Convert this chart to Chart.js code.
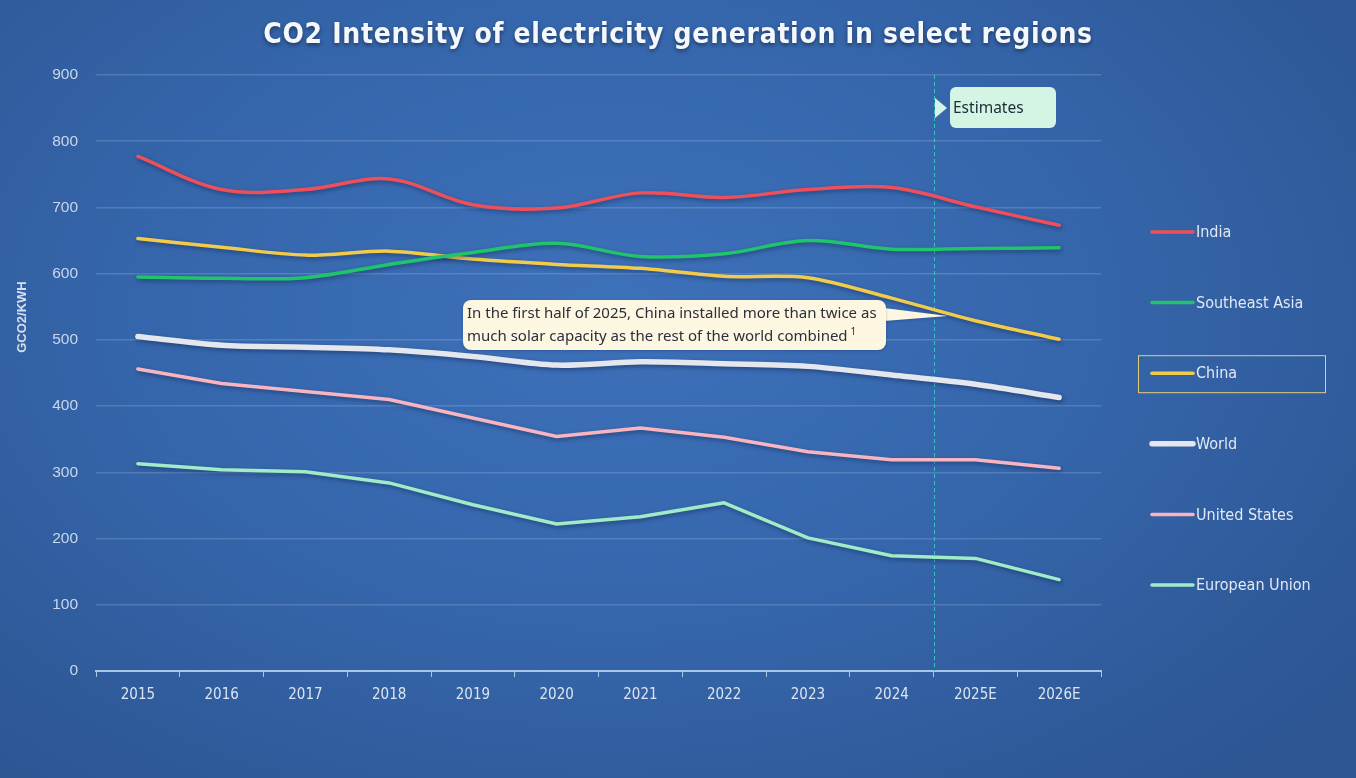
<!DOCTYPE html>
<html>
<head>
<meta charset="utf-8">
<script src="https://cdn.jsdelivr.net/npm/chart.js@4.4.1/dist/chart.umd.min.js"></script>
<style>
  html, body { margin: 0; padding: 0; }
  body {
    width: 1356px; height: 778px; overflow: hidden;
    background: radial-gradient(ellipse 70% 80% at 45% 40%, #3d71ba 0%, #3667ad 45%, #2c5592 100%);
  }
  #wrap { position: relative; width: 1356px; height: 778px; }
</style>
</head>
<body>
<div id="wrap"><canvas id="chart" width="1356" height="778"></canvas></div>
<script>
// categories
const years = ['2015', '2016', '2017', '2018', '2019', '2020', '2021', '2022', '2023', '2024', '2025E', '2026E'];

// series values (gCO2/kWh)
const india         = [777, 727, 727, 743, 704, 699, 722, 715, 727, 730, 701, 673];
const southeastAsia = [595, 593, 594, 614, 632, 646, 626, 630, 650, 637, 638, 639];
const china         = [653, 640, 628, 634, 622, 614, 608, 596, 594, 563, 529, 501];
const world         = [505, 492, 489, 485, 475, 462, 467, 464, 460, 447, 433, 413];
const unitedStates  = [456, 434, 422, 410, 382, 354, 367, 353, 331, 319, 319, 306];
const europeanUnion = [313, 304, 301, 284, 251, 222, 233, 254, 201, 174, 170, 138];

// y ticks
const yTicks = [0, 100, 200, 300, 400, 500, 600, 700, 800, 900];

const titleText = 'CO2 Intensity of electricity generation in select regions';
const noteLines = ['In the first half of 2025, China installed more than twice as',
                   'much solar capacity as the rest of the world combined'];
const estimateIdx = 10; // first estimated category
const highlightLegend = 'China';

function series(label, data, color, width, tension) {
  return {
    label: label, data: data, borderColor: color, backgroundColor: color,
    borderWidth: width, tension: tension, pointRadius: 0, pointHoverRadius: 0,
    borderCapStyle: 'round', borderJoinStyle: 'round', fill: false
  };
}

// shadow under the lines, title, custom legend and callouts
const decorations = {
  id: 'decorations',
  beforeDatasetDraw(chart) {
    const ctx = chart.ctx;
    ctx.save();
    ctx.shadowColor = 'rgba(10, 25, 60, 0.45)';
    ctx.shadowBlur = 4;
    ctx.shadowOffsetX = 1;
    ctx.shadowOffsetY = 2;
  },
  afterDatasetDraw(chart) {
    chart.ctx.restore();
  },
  beforeDatasetsDraw(chart) {
    // dashed line at the start of estimates
    const ctx = chart.ctx, x = chart.scales.x, a = chart.chartArea;
    const lx = Math.round((x.getPixelForValue(estimateIdx - 1) + x.getPixelForValue(estimateIdx)) / 2) + 0.5;
    ctx.save();
    ctx.strokeStyle = '#39c2bd';
    ctx.lineWidth = 1;
    ctx.setLineDash([4, 3]);
    ctx.beginPath();
    ctx.moveTo(lx, a.top);
    ctx.lineTo(lx, a.bottom);
    ctx.stroke();
    ctx.restore();
  },
  afterDraw(chart) {
    const ctx = chart.ctx, a = chart.chartArea, x = chart.scales.x, y = chart.scales.y;

    // title
    ctx.save();
    ctx.font = 'bold 28px "DejaVu Sans Condensed", "DejaVu Sans"';
    ctx.letterSpacing = '0.7px';
    ctx.fillStyle = '#f4f7fb';
    ctx.textAlign = 'center';
    ctx.textBaseline = 'middle';
    ctx.shadowColor = 'rgba(0, 0, 0, 0.45)';
    ctx.shadowBlur = 4;
    ctx.shadowOffsetY = 2;
    ctx.fillText(titleText, 678, 36);
    ctx.restore();

    // y axis title
    ctx.save();
    ctx.translate(22, 317);
    ctx.rotate(-Math.PI / 2);
    ctx.font = 'bold 13px "Liberation Sans", Arial';
    ctx.fillStyle = '#d5dfee';
    ctx.textAlign = 'center';
    ctx.textBaseline = 'middle';
    ctx.fillText('GCO2/KWH', 0, 0);
    ctx.restore();

    // legend
    const lx0 = a.right + 51, lx1 = a.right + 92;
    chart.data.datasets.forEach((ds, i) => {
      const ly = a.top + 157 + i * 70.6;
      ctx.save();
      if (ds.label === highlightLegend) {
        ctx.strokeStyle = '#e3cf7a';
        ctx.lineWidth = 1;
        ctx.strokeRect(a.right + 37.5, ly - 17.5, 187, 37);
      }
      ctx.strokeStyle = ds.borderColor;
      ctx.lineWidth = ds.borderWidth;
      ctx.lineCap = 'round';
      ctx.beginPath();
      ctx.moveTo(lx0, ly);
      ctx.lineTo(lx1, ly);
      ctx.stroke();
      ctx.font = '16px "DejaVu Sans Condensed", "DejaVu Sans"';
      ctx.fillStyle = '#e2e9f4';
      ctx.textBaseline = 'middle';
      ctx.fillText(ds.label, lx1 + 3, ly + 1);
      ctx.restore();
    });

    // "Estimates" tag next to the dashed line
    const lx = Math.round((x.getPixelForValue(estimateIdx - 1) + x.getPixelForValue(estimateIdx)) / 2);
    const ty = y.getPixelForValue(850);
    ctx.save();
    ctx.fillStyle = '#d4f5e4';
    ctx.beginPath();
    ctx.moveTo(lx + 1, ty - 10);
    ctx.lineTo(lx + 13, ty);
    ctx.lineTo(lx + 1, ty + 10);
    ctx.closePath();
    ctx.fill();
    ctx.beginPath();
    ctx.roundRect(lx + 16, ty - 21, 106, 41, 6);
    ctx.fill();
    ctx.font = '15.5px "Noto Sans", "Open Sans"';
    ctx.fillStyle = '#1d2a3a';
    ctx.textBaseline = 'middle';
    ctx.fillText('Estimates', lx + 19, ty);
    ctx.restore();

    // China callout
    const tipX = x.getPixelForValue(9.67), tipY = y.getPixelForValue(536);
    const bx = 463, by = 300, bw = 423, bh = 50;
    ctx.save();
    ctx.fillStyle = '#fdf6e1';
    ctx.shadowColor = 'rgba(10, 25, 60, 0.25)';
    ctx.shadowBlur = 3;
    ctx.shadowOffsetY = 1;
    ctx.beginPath();
    ctx.moveTo(bx + bw - 2, by + 8);
    ctx.lineTo(tipX, tipY);
    ctx.lineTo(bx + bw - 2, by + 21);
    ctx.closePath();
    ctx.fill();
    ctx.beginPath();
    ctx.roundRect(bx, by, bw, bh, 8);
    ctx.fill();
    ctx.shadowColor = 'transparent';
    ctx.font = '15px "Noto Sans", "Open Sans"';
    ctx.fillStyle = '#2a2f3b';
    ctx.textBaseline = 'middle';
    ctx.fillText(noteLines[0], bx + 4, by + 14);
    ctx.fillText(noteLines[1], bx + 4, by + 37);
    const w2 = ctx.measureText(noteLines[1]).width;
    ctx.font = '10px "Noto Sans", "Open Sans"';
    ctx.fillText('1', bx + 4 + w2 + 3, by + 32);
    ctx.restore();
  }
};

new Chart(document.getElementById('chart'), {
  type: 'line',
  data: {
    labels: years,
    datasets: [
      series('India', india, '#ef4f5b', 3.5, 0.35),
      series('Southeast Asia', southeastAsia, '#20c46a', 3.5, 0.35),
      series('China', china, '#f3cb4b', 3.5, 0.3),
      series('World', world, '#e4e8ee', 5.5, 0.3),
      series('United States', unitedStates, '#f8b5c1', 3.5, 0),
      series('European Union', europeanUnion, '#a0ebc8', 3.5, 0)
    ]
  },
  options: {
    responsive: false,
    devicePixelRatio: 1,
    animation: false,
    layout: { padding: { top: 75, right: 255, left: 0, bottom: 0 } },
    plugins: {
      legend: { display: false },
      title: { display: false },
      tooltip: { enabled: false }
    },
    scales: {
      x: {
        type: 'category',
        offset: true,
        afterFit(scale) { scale.height = 107; },
        grid: {
          display: true, drawOnChartArea: false, drawTicks: true,
          tickLength: 6, offset: true, color: '#a9c6e8', lineWidth: 1
        },
        border: { display: true, color: '#a9c6e8', width: 2 },
        ticks: {
          color: '#dbe5f2', padding: 9, maxRotation: 0, autoSkip: false,
          font: { family: '"DejaVu Sans Condensed", "DejaVu Sans"', size: 15 }
        }
      },
      y: {
        min: 0, max: 900,
        afterFit(scale) { scale.width = 96; },
        afterBuildTicks(scale) { scale.ticks = yTicks.map(v => ({ value: v })); },
        grid: { color: 'rgba(190, 210, 240, 0.22)', lineWidth: 1.5, drawTicks: false },
        border: { display: false },
        ticks: {
          color: '#c9d7ec', padding: 18,
          font: { family: '"Liberation Sans", Arial', size: 15.5 }
        }
      }
    }
  },
  plugins: [decorations]
});
</script>
</body>
</html>
